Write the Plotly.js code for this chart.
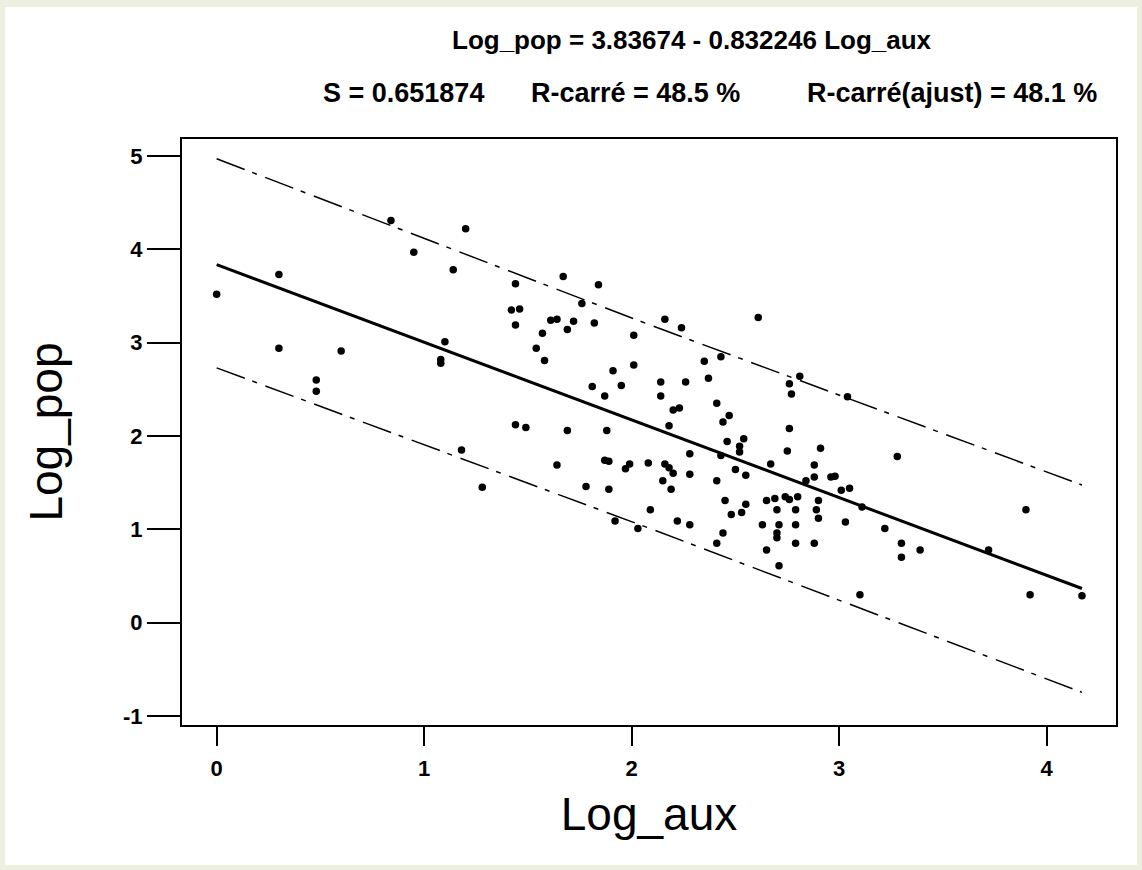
<!DOCTYPE html>
<html>
<head>
<meta charset="utf-8">
<script src="https://cdn.plot.ly/plotly-3.0.1.min.js"></script>
<style>
  html, body { margin: 0; padding: 0; background: #edf0e0; width: 1142px; height: 870px; overflow: hidden; }
  #chart { position: absolute; left: 5px; top: 7px; width: 1132px; height: 858px; background: #ffffff; }
</style>
</head>
<body>
<div id="chart"></div>
<script>
// ---- data ----
const logAux = [
  0.00, 0.30, 0.30, 0.48, 0.48, 0.60, 0.84, 0.95, 1.20, 1.14, 1.10, 1.08, 1.08,
  1.18, 1.28,
  1.44, 1.67, 1.84, 1.76, 1.42, 1.46, 1.44, 1.61, 1.64, 1.72, 1.69, 1.82, 1.57, 1.54, 1.58,
  2.01, 2.16, 2.24, 2.61, 1.91, 2.01, 1.81, 1.95, 1.87, 2.35, 2.43, 2.37, 2.14, 2.26, 2.14,
  2.20, 2.23, 2.41, 2.47, 2.44, 2.18, 2.76, 2.77, 2.76, 2.81, 1.44, 1.49, 1.69, 1.88, 2.54,
  3.04,
  2.46, 2.52, 2.52, 2.75, 2.28, 2.43, 2.67, 1.64, 1.87, 1.89, 1.97, 1.99, 2.08, 2.16, 2.18,
  2.20, 2.28, 2.15, 2.19, 2.41, 2.50, 2.55, 1.78, 1.89, 2.09, 1.92, 2.03, 2.22, 2.28, 2.45,
  2.48, 2.55, 2.53, 2.44, 2.41, 2.65, 2.69, 2.74, 2.76, 2.80, 2.70, 2.79, 2.63, 2.71, 2.79,
  2.70, 2.70, 2.79, 2.65, 2.71,
  2.91, 2.88, 2.84, 2.88, 2.96, 2.98, 3.01, 3.05, 3.11, 2.90, 2.89, 2.90, 2.88, 3.03, 3.22,
  3.30, 3.30, 3.39, 3.28, 3.10, 3.72, 3.90, 3.92, 4.17
];
const logPop = [
  3.52, 3.73, 2.94, 2.60, 2.48, 2.91, 4.31, 3.97, 4.22, 3.78, 3.01, 2.82, 2.78,
  1.85, 1.45,
  3.63, 3.71, 3.62, 3.42, 3.35, 3.36, 3.19, 3.24, 3.25, 3.23, 3.14, 3.21, 3.10, 2.94, 2.81,
  3.08, 3.25, 3.16, 3.27, 2.70, 2.76, 2.53, 2.54, 2.43, 2.80, 2.85, 2.62, 2.58, 2.58, 2.43,
  2.28, 2.30, 2.35, 2.22, 2.15, 2.11, 2.56, 2.45, 2.08, 2.64, 2.12, 2.09, 2.06, 2.06, 1.97,
  2.42,
  1.94, 1.89, 1.83, 1.84, 1.81, 1.79, 1.70, 1.69, 1.74, 1.73, 1.65, 1.70, 1.71, 1.70, 1.66,
  1.60, 1.59, 1.52, 1.43, 1.52, 1.64, 1.58, 1.46, 1.43, 1.21, 1.09, 1.01, 1.09, 1.05, 1.31,
  1.16, 1.27, 1.18, 0.96, 0.85, 1.31, 1.33, 1.35, 1.32, 1.35, 1.21, 1.21, 1.05, 1.05, 1.05,
  0.96, 0.91, 0.85, 0.78, 0.61,
  1.87, 1.69, 1.52, 1.56, 1.56, 1.57, 1.42, 1.44, 1.24, 1.31, 1.21, 1.12, 0.85, 1.08, 1.01,
  0.85, 0.70, 0.78, 1.78, 0.30, 0.78, 1.21, 0.30, 0.29
];

// fitted equation shown in the title
const intercept = 3.83674;
const slope = -0.832246;
const fitX = [0, 4.17];

// prediction-interval bounds
const piX = [0, 2.1, 4.17];
const piUpper = [4.97, 3.18, 1.475];
const piLower = [2.73, 1.00, -0.746];

const xTickVals = [0, 1, 2, 3, 4];
const xTickLabels = ['0', '1', '2', '3', '4'];
const yTickVals = [-1, 0, 1, 2, 3, 4, 5];
const yTickLabels = ['-1', '0', '1', '2', '3', '4', '5'];

const titleLine1 = 'Log_pop = 3.83674 - 0.832246 Log_aux';
const statS = 'S = 0.651874';
const statR2 = 'R-carré = 48.5 %';
const statR2adj = 'R-carré(ajust) = 48.1 %';

// ---- layout geometry ----
const W = 1132, H = 858;
const M = { l: 177, r: 21, t: 132, b: 140 };
const PW = W - M.l - M.r, PH = H - M.t - M.b;
const OX = 5, OY = 7; // div offset in page
const px = x => (x - OX - M.l) / PW;
const py = y => 1 - (y - OY - M.t) / PH;

const fitY = fitX.map(x => intercept + slope * x);

const FONT = 'Liberation Sans, Arial, sans-serif';
const dashDot = '30px,8px,5px,9px';

const traces = [
  { x: piX, y: piUpper, type: 'scatter', mode: 'lines',
    line: { color: '#000', width: 1.5, dash: dashDot }, hoverinfo: 'skip' },
  { x: piX, y: piLower, type: 'scatter', mode: 'lines',
    line: { color: '#000', width: 1.5, dash: dashDot }, hoverinfo: 'skip' },
  { x: fitX, y: fitY, type: 'scatter', mode: 'lines',
    line: { color: '#000', width: 3 } },
  { x: logAux, y: logPop, type: 'scatter', mode: 'markers',
    marker: { color: '#000', size: 7.5, symbol: 'circle' } }
];

const axisCommon = {
  showgrid: false, zeroline: false,
  showline: true, linecolor: '#000', linewidth: 2, mirror: true,
  ticks: 'outside', tickcolor: '#000', tickwidth: 2,
  tickfont: { family: FONT, size: 22, color: '#000', weight: 'bold' }
};

const layout = {
  width: W, height: H,
  margin: M,
  paper_bgcolor: '#ffffff', plot_bgcolor: '#ffffff',
  showlegend: false,
  xaxis: Object.assign({}, axisCommon, {
    range: [-0.167, 4.334], tickmode: 'array', tickvals: xTickVals, ticktext: xTickLabels,
    ticklen: 19, ticklabelstandoff: 4,
    title: { text: 'Log_aux', font: { family: FONT, size: 46, color: '#000' }, standoff: 17 }
  }),
  yaxis: Object.assign({}, axisCommon, {
    range: [-1.096, 5.182], tickmode: 'array', tickvals: yTickVals, ticktext: yTickLabels,
    ticklen: 33,
    title: { text: 'Log_pop', font: { family: FONT, size: 46, color: '#000' }, standoff: 46 }
  }),
  annotations: [
    { text: titleLine1, xref: 'paper', yref: 'paper', x: px(692), y: py(40),
      xanchor: 'center', yanchor: 'middle', showarrow: false,
      font: { family: FONT, size: 26, color: '#000', weight: 'bold' } },
    { text: statS, xref: 'paper', yref: 'paper', x: px(403), y: py(93),
      xanchor: 'center', yanchor: 'middle', showarrow: false,
      font: { family: FONT, size: 27, color: '#000', weight: 'bold' } },
    { text: statR2, xref: 'paper', yref: 'paper', x: px(635), y: py(93),
      xanchor: 'center', yanchor: 'middle', showarrow: false,
      font: { family: FONT, size: 27, color: '#000', weight: 'bold' } },
    { text: statR2adj, xref: 'paper', yref: 'paper', x: px(952), y: py(93),
      xanchor: 'center', yanchor: 'middle', showarrow: false,
      font: { family: FONT, size: 27, color: '#000', weight: 'bold' } }
  ]
};

Plotly.newPlot('chart', traces, layout, { displayModeBar: false, staticPlot: true });
</script>
</body>
</html>
